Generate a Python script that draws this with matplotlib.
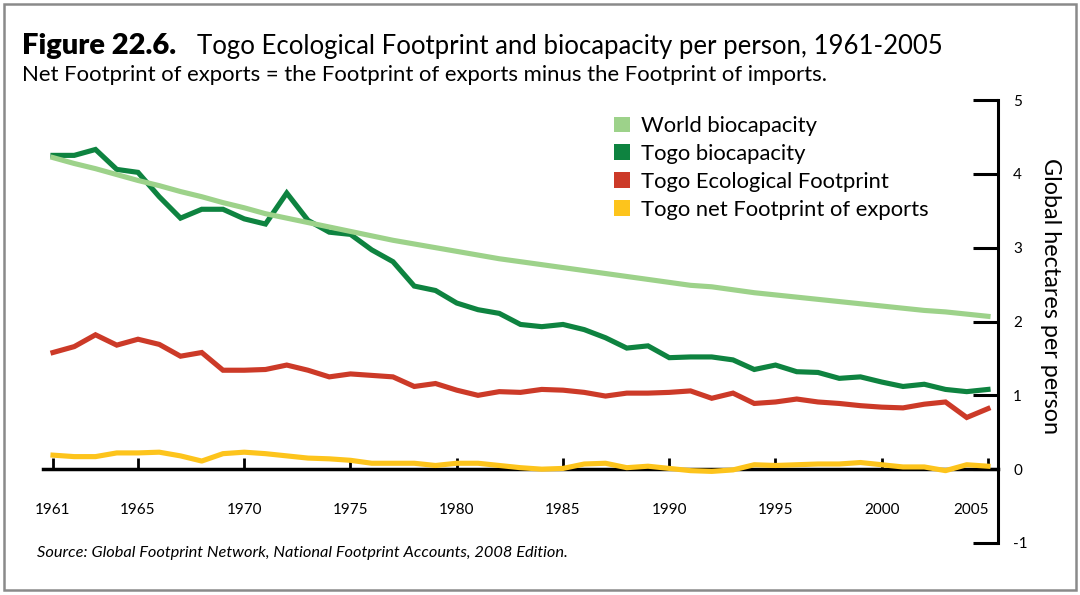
import matplotlib
matplotlib.use("Agg")
import matplotlib.pyplot as plt
from matplotlib.patches import Patch, Rectangle
from matplotlib.transforms import offset_copy

years = list(range(1961, 2006))

world_biocapacity = [4.22, 4.14, 4.07, 3.99, 3.91, 3.84, 3.76, 3.69, 3.61, 3.54,
                     3.46, 3.40, 3.34, 3.28, 3.22, 3.16, 3.10, 3.05, 3.00, 2.95,
                     2.90, 2.85, 2.81, 2.77, 2.73, 2.69, 2.65, 2.61, 2.57, 2.53,
                     2.49, 2.47, 2.43, 2.39, 2.36, 2.33, 2.30, 2.27, 2.24, 2.21,
                     2.18, 2.15, 2.13, 2.10, 2.07]

togo_biocapacity = [4.25, 4.25, 4.33, 4.06, 4.02, 3.69, 3.40, 3.52, 3.52, 3.39,
                    3.32, 3.74, 3.37, 3.21, 3.18, 2.97, 2.81, 2.48, 2.42, 2.25,
                    2.16, 2.11, 1.96, 1.93, 1.96, 1.89, 1.78, 1.64, 1.67, 1.51,
                    1.52, 1.52, 1.48, 1.35, 1.41, 1.32, 1.31, 1.23, 1.25, 1.18,
                    1.12, 1.15, 1.08, 1.05, 1.08]

togo_footprint = [1.58, 1.66, 1.82, 1.68, 1.76, 1.69, 1.53, 1.58, 1.34, 1.34,
                  1.35, 1.41, 1.34, 1.25, 1.29, 1.27, 1.25, 1.12, 1.16, 1.07,
                  1.00, 1.05, 1.04, 1.08, 1.07, 1.04, 0.99, 1.03, 1.03, 1.04,
                  1.06, 0.96, 1.03, 0.89, 0.91, 0.95, 0.91, 0.89, 0.86, 0.84,
                  0.83, 0.88, 0.91, 0.70, 0.82]

togo_net_exports = [0.19, 0.17, 0.17, 0.22, 0.22, 0.23, 0.18, 0.11, 0.21, 0.23,
                    0.21, 0.18, 0.15, 0.14, 0.12, 0.08, 0.08, 0.08, 0.05, 0.08,
                    0.08, 0.05, 0.02, 0.00, 0.01, 0.07, 0.08, 0.02, 0.04, 0.01,
                    -0.02, -0.03, -0.01, 0.06, 0.05, 0.06, 0.07, 0.07, 0.09, 0.06,
                    0.03, 0.03, -0.02, 0.06, 0.04]

xtick_years = [1961, 1965, 1970, 1975, 1980, 1985, 1990, 1995, 2000, 2005]
yticks = [-1, 0, 1, 2, 3, 4, 5]

labels = ["World biocapacity", "Togo biocapacity",
          "Togo Ecological Footprint", "Togo net Footprint of exports"]
colors = ["#9dd28a", "#0e8340", "#cc3a28", "#fdc41c"]

FONT = ["Lato", "DejaVu Sans"]
plt.rcParams["font.family"] = FONT

W, H = 1080, 595
fig = plt.figure(figsize=(W / 100, H / 100), dpi=100)

# axes placement in pixels
x0, x1 = 43, 998
y_top, y_bot = 100, 543
ax = fig.add_axes([x0 / W, 1 - y_bot / H, (x1 - x0) / W, (y_bot - y_top) / H])
ax.set_xlim(1961 - 10 / 21.25, 2005 + 10 / 21.25)
ax.set_ylim(-1, 5)

lw = 3.7
ax.plot(years, togo_biocapacity, color=colors[1], lw=lw, zorder=3, solid_joinstyle="miter")
ax.plot(years, world_biocapacity, color=colors[0], lw=lw, zorder=4)
ax.plot(years, togo_footprint, color=colors[2], lw=lw, zorder=3, solid_joinstyle="miter")
ax.plot(years, togo_net_exports, color=colors[3], lw=lw, zorder=5)

for s in ["left", "top"]:
    ax.spines[s].set_visible(False)
ax.spines["right"].set_linewidth(2.2)
ax.spines["bottom"].set_position(("data", 0))
ax.spines["bottom"].set_linewidth(2.5)
ax.spines["bottom"].set_zorder(2)

ax.yaxis.tick_right()
ax.set_yticks(yticks)
ax.set_yticklabels([str(v) for v in yticks])
ax.tick_params(axis="y", direction="in", length=18, width=2.2, pad=11,
               labelsize=11, colors="black")
ax.set_xticks(xtick_years)
ax.set_xticklabels([str(v) for v in xtick_years])
ax.tick_params(axis="x", direction="in", length=8, width=2, pad=24, labelsize=11)
last = ax.get_xticklabels()[-1]
last.set_horizontalalignment("right")
last.set_transform(offset_copy(last.get_transform(), fig=fig, x=1, units="dots"))

ax.yaxis.set_label_position("right")
ylab = ax.set_ylabel("Global hectares per person", rotation=-90, fontsize=16.8,
                     ha="center", va="center", rotation_mode="anchor")
ax.yaxis.set_label_coords((1050 - x0) / (x1 - x0), (y_bot - 296) / (y_bot - y_top))

handles = [Patch(facecolor=c, edgecolor="none") for c in colors]
leg = ax.legend(handles, labels, loc="upper left",
                bbox_to_anchor=(614 / W, 1 - 116 / H), bbox_transform=fig.transFigure,
                frameon=False, fontsize=15.8, handlelength=0.72, handleheight=0.72,
                handletextpad=0.5, labelspacing=0.36, borderpad=0, borderaxespad=0)

fig.text(22 / W, 1 - 54 / H, "Figure 22.6.", fontsize=21, fontweight="heavy",
         va="baseline")
fig.text(197 / W, 1 - 54 / H,
         "Togo Ecological Footprint and biocapacity per person, 1961-2005",
         fontsize=18.5, va="baseline")
fig.text(22 / W, 1 - 81 / H,
         "Net Footprint of exports = the Footprint of exports minus the Footprint of imports.",
         fontsize=15.9, va="baseline")
fig.text(37 / W, 1 - 557 / H,
         "Source: Global Footprint Network, National Footprint Accounts, 2008 Edition.",
         fontsize=11.75, style="italic", va="baseline")

fig.patches.append(Rectangle((4 / W, 5 / H), 1072 / W, 586 / H, transform=fig.transFigure,
                             fill=False, edgecolor="#8a8a8a", lw=1.8))

fig.savefig("out.png", dpi=100)
